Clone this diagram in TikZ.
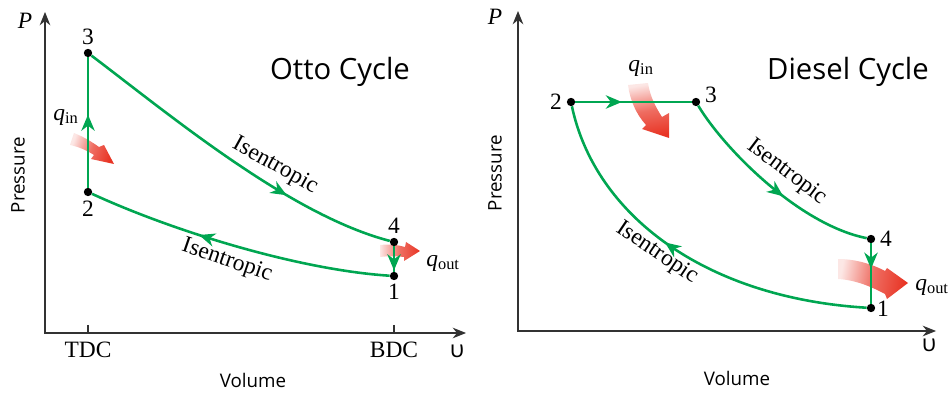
\documentclass[tikz,border=0pt]{standalone}
\usepackage{fontspec}
\setmainfont{Liberation Serif}
\newfontfamily\sansfont{Open Sans}
\usetikzlibrary{arrows.meta, decorations.markings}
\definecolor{cyclegreen}{RGB}{0,166,81}
\definecolor{heatred}{RGB}{232,52,36}
\definecolor{axisgray}{RGB}{50,50,50}

\begin{document}
\begin{tikzpicture}[x=0.3mm, y=-0.3mm,
    lbl/.style={font=\fontsize{20}{22}\selectfont, inner sep=1pt},
    ttl/.style={font=\sansfont\fontsize{25}{28}\selectfont},
    axname/.style={font=\sansfont\fontsize{16}{18}\selectfont},
    dot/.style={circle,fill=black,inner sep=0pt,minimum size=2.5mm},
    axis/.style={draw=axisgray,line width=1.1pt,
                 {Stealth[length=4mm,width=3.2mm,inset=1.3mm]}-{Stealth[length=4mm,width=3.2mm,inset=1.3mm]}},
    cyc/.style={draw=cyclegreen,line width=2.2pt},
    flow/.style={decoration={markings,mark=at position #1 with
                 {\arrow{Stealth[length=4.8mm,width=4mm,inset=1.5mm]}}},postaction={decorate}},
    heat/.style={top color=heatred!12,bottom color=heatred,middle color=heatred!72,shading angle=#1}]
  \useasboundingbox (0,0) rectangle (952,396);

  % Otto cycle
  \coordinate (ox) at (466,333);
  \coordinate (oo) at (45,333);
  \coordinate (oy) at (45,12);
  \draw[axis] (ox) -- (oo) -- (oy);
  \draw[axisgray,line width=1.1pt] (88,325) -- (88,333) (394,325) -- (394,333);
  \shade[heat=70] (74,133) .. controls (84,137) and (92,142) .. (99,147) -- (104,145)
    -- (114,164) -- (91,159) -- (94,155) .. controls (86,150) and (79,147) .. (70,145) -- cycle;
  \shade[heat=90] (380,245) .. controls (390,244) and (398,245) .. (405,247) -- (406,242)
    -- (420,251) -- (404,261) -- (404,257) .. controls (396,256) and (388,256) .. (380,257) -- cycle;
  \node[dot] (o1) at (394,276) {};
  \node[dot] (o2) at (88,192) {};
  \node[dot] (o3) at (88,53) {};
  \node[dot] (o4) at (394,242) {};
  \draw[cyc,flow=0.56] (o2) -- (o3);
  \draw[cyc,flow=0.68] (o3) .. controls (170,115) and (290,215) .. (o4);
  \draw[cyc,flow=0.95] (o4) -- (o1);
  \draw[cyc,flow=0.63] (o1) .. controls (300,270) and (175,232) .. (o2);
  \node[lbl] (l3) at (88,37) {3};
  \node[lbl] (l2) at (88,209) {2};
  \node[lbl] (l4) at (394,226) {4};
  \node[lbl] (l1) at (394,292) {1};
  \node[lbl] (oqin) at (66,117) {\textit{q}\textsubscript{in}};
  \node[lbl] (oqout) at (443,263) {\textit{q}\textsubscript{out}};
  \node[lbl,rotate=-29] (oisu) at (275,166) {Isentropic};
  \node[lbl,rotate=-19] (oisl) at (227,261) {Isentropic};
  \node[lbl] (tdc) at (88,350) {TDC};
  \node[lbl] (bdc) at (394,350) {BDC};
  \node[lbl] (op) at (25,21) {\textit{P}};
  \node[lbl] (ov) at (457,351) {\sansfont υ};
  \node[ttl] (otitle) at (340,72) {Otto Cycle};
  \node[axname,rotate=90] (opress) at (18,175) {Pressure};
  \node[axname] (ovol) at (253,380) {Volume};

  % Diesel cycle
  \coordinate (dx) at (936,331);
  \coordinate (do) at (518,331);
  \coordinate (dy) at (518,11);
  \draw[axis] (dx) -- (do) -- (dy);
  \shade[heat=10] (628,85) .. controls (630,100) and (636,114) .. (646,125) -- (642,129)
    -- (669,138) -- (669,113) -- (662,117) .. controls (655,106) and (650,96) .. (648,83) -- cycle;
  \shade[heat=80] (838,259) .. controls (855,259) and (872,264) .. (885,271) -- (887,268)
    -- (908,283) -- (887,299) -- (885,294) .. controls (870,286) and (855,280) .. (838,279) -- cycle;
  \node[dot] (d1) at (871,308) {};
  \node[dot] (d2) at (571,102) {};
  \node[dot] (d3) at (696,102) {};
  \node[dot] (d4) at (871,239) {};
  \draw[cyc,flow=0.4] (d2) -- (d3);
  \draw[cyc,flow=0.57] (d3) .. controls (725,150) and (800,225) .. (d4);
  \draw[cyc,flow=0.42] (d4) -- (d1);
  \draw[cyc,flow=0.56] (d1) .. controls (705,298) and (595,215) .. (d2);
  \node[lbl] (m2) at (556,102) {2};
  \node[lbl] (m3) at (711,95) {3};
  \node[lbl] (m4) at (886,239) {4};
  \node[lbl] (m1) at (883,309) {1};
  \node[lbl] (dqin) at (641,68) {\textit{q}\textsubscript{in}};
  \node[lbl] (dqout) at (932,287) {\textit{q}\textsubscript{out}};
  \node[lbl,rotate=-37] (disu) at (787,172) {Isentropic};
  \node[lbl,rotate=-34] (disl) at (657,253) {Isentropic};
  \node[lbl] (dp) at (495,17) {\textit{P}};
  \node[lbl] (dv) at (929,345) {\sansfont υ};
  \node[ttl] (dtitle) at (848,72) {Diesel Cycle};
  \node[axname,rotate=90] (dpress) at (495,173) {Pressure};
  \node[axname] (dvol) at (737,378) {Volume};
\end{tikzpicture}
\end{document}
